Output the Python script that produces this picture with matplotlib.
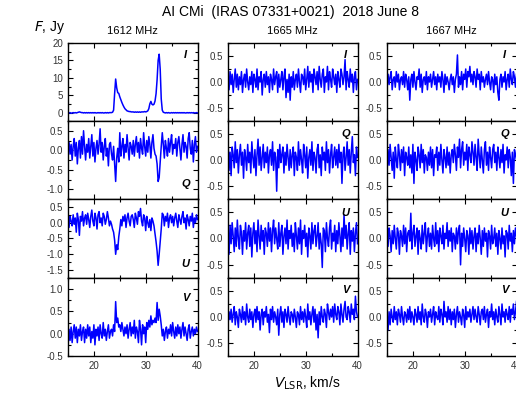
import numpy as np
import matplotlib
matplotlib.use("Agg")
import matplotlib.pyplot as plt
from matplotlib.ticker import MultipleLocator, FormatStrFormatter

plt.rcParams['font.family'] = ['Liberation Sans', 'DejaVu Sans']
plt.rcParams['axes.unicode_minus'] = False

stokes = ["I", "Q", "U", "V"]
freqs = ["1612 MHz", "1665 MHz", "1667 MHz"]

# 1612 MHz, I in Jy
i_1612 = [0.1, 0.0, 0.1, -0.1, 0.0, 0.1, 0.0, 0.1, 0.0, 0.1, 0.2, 0.3, 0.2, 0.1, 0.1, 0.0, 0.1, 0.0, 0.1, 0.0, 0.1,
          0.0, 0.1, 0.0, 0.1, 0.0, 0.1, 0.0, 0.0, 0.1, 0.0, 0.1, 0.0, 0.1, 0.0, 0.0, 0.1, 0.0, 0.1, 0.0, 0.1, 0.1,
          0.1, 0.2, 0.8, 5.5, 9.7, 7.2, 5.8, 5.6, 4.6, 3.8, 3.0, 2.3, 1.7, 1.2, 0.9, 0.6, 0.5, 0.4, 0.4, 0.3, 0.3,
          0.3, 0.2, 0.3, 0.2, 0.3, 0.2, 0.3, 0.2, 0.3, 0.3, 0.3, 0.4, 0.3, 0.4, 0.6, 1.2, 2.6, 3.3, 2.5, 2.3, 2.5,
          3.4, 5.5, 9.5, 15.0, 16.8, 12.5, 4.0, 0.8, 0.2, 0.1, 0.0, 0.1, 0.0, 0.1, 0.0, 0.0, 0.1, 0.0, 0.1, 0.0, 0.1,
          0.0, 0.1, 0.0, 0.1, 0.0, 0.1, 0.0, 0.1, 0.0, 0.0, 0.1, 0.0, 0.1, 0.0, 0.1, 0.0, 0.1, 0.0, 0.0, 0.1, 0.0]

# the rest in units of 0.01 Jy
q_1612 = [5, 20, -10, 15, -25, 10, 30, -15, 20, -35, 5, 25, -20, 35, -10, 50, 10, -25, 15, -5, 30,
          -20, 10, 40, -15, 20, -30, 5, 25, -10, 15, 55, -5, 20, -25, 10, 30, -15, 5, -40, 15, 20,
          -10, -25, 10, -35, -80, -20, 5, -30, 45, -15, 10, 30, -20, 15, -5, 40, 5, -25, 20, 10, -10,
          25, -15, 15, 35, -5, 20, -20, 30, 5, -10, 45, 10, -15, 25, -5, 35, 15, -20, 20, 40, 5,
          -10, -15, -35, -80, -70, -30, 10, 45, 15, -20, 25, 5, -15, 30, -5, 20, 40, -10, 15, 5, 30,
          -15, 20, 35, 5, -25, 15, 40, -5, 20, 10, -20, 30, 45, 5, -10, 25, -30, 15, 35, -5, 10]
u_1612 = [10, -15, 20, 5, -10, 25, -5, 15, -30, 30, 10, -40, 20, 5, 35, -10, 15, 25, -5, 30, 10,
          -15, 20, 40, 5, -10, 30, 15, -20, 25, 35, 0, 15, -10, 30, 20, -5, 10, 35, 15, -10, 5,
          -5, -20, -30, -55, -100, -70, -85, -45, -20, 10, -10, 20, 5, 25, -15, 15, 30, 5, -10, 20, 25,
          10, -15, 30, 15, -5, 35, 20, 45, 5, -10, 25, 15, -25, 20, 0, -15, 10, -25, 15, 5, -10,
          -35, -60, -90, -135, -100, -60, -20, 30, 25, -10, 20, 5, 30, -15, 15, 25, 0, 20, -10, 15, 30,
          5, -15, 25, 10, -5, 20, 35, 0, 15, -20, 25, 10, -10, 20, 5, 30, -15, 15, 0, 25, 10]
v_1612 = [-30, 10, -15, 15, -20, 5, 20, -10, 15, -20, 10, -5, 20, -15, 5, 15, -20, 10, -10, 20, -5,
          15, -20, 5, -10, 20, -25, 10, -5, 15, -15, 20, 0, -10, 25, -5, 10, -15, 5, 20, -10, 5,
          10, -5, 20, 5, 72, 25, 35, 15, 20, 5, 25, 10, -5, 15, 0, 20, -10, 10, 25, -5, 15,
          0, 30, -10, 15, 5, -20, 30, 10, -25, 20, 0, 15, -20, 25, 10, 30, 15, 40, 20, 30, 25,
          35, 25, 70, 30, 55, 40, 20, -5, 10, -15, 5, 15, -10, 10, 0, 20, -5, 25, 5, -10, 15,
          -5, 20, 0, 15, -10, 10, 25, -5, 15, 0, -15, 10, 20, -10, 5, 15, -5, 10, 0, 15, 5]

i_1665 = [10, -15, 20, -5, 15, -20, 5, 25, -10, 15, -15, 10, -5, 20, -20, 5, 15, -10, 25, 0, -15,
          10, -5, 20, -20, 15, 5, -10, 25, -15, 10, 0, 20, -25, 5, 15, -10, 20, -5, 10, -20, 15,
          5, -15, 25, -5, 10, 20, -20, 15, -10, 5, 20, -15, 10, 25, -30, 5, -20, 15, -35, 10, -10,
          20, -15, 5, 15, -10, 25, 0, -20, 15, 10, -5, 25, -15, 5, 30, -10, 20, 0, 15, -20, 25,
          10, -5, 20, -15, 30, 5, -10, 15, 25, -20, 10, 0, 30, -15, 20, 5, -10, 25, 10, -5, 15,
          -20, 20, 5, -10, 25, 15, -5, 10, 43, -15, 20, 5, -10, 25, 0, 15, -20, 10, 20, -15, 5]
q_1665 = [40, -20, 15, -30, 25, 10, -15, 35, -5, 20, -25, 10, 30, -10, 15, -35, 20, 5, -20, 30, -5,
          15, -25, 35, 5, -15, 20, -30, 10, 40, -10, 25, -20, 5, 30, -15, 15, -5, 25, -25, 10, 20,
          -10, 35, -20, 15, 5, -60, 20, -15, 30, -5, 10, 25, -25, 15, -10, 30, 5, -20, 20, -15, 10,
          25, -30, 15, 5, -20, 35, -10, 20, 0, -25, 30, 10, -15, 25, -35, 5, 20, -10, 35, -20, 15,
          5, -25, 20, 30, -15, 10, -30, 25, 0, 15, -20, 35, -5, 20, -25, 10, 30, -15, 5, 25, -10,
          20, -15, 30, -5, 15, -45, 10, 25, -20, 5, 35, -10, 20, -25, 15, 45, -5, 10, -30, 25, 5]
u_1665 = [15, -30, 25, -10, 30, 5, -25, 20, -15, 35, 0, -20, 25, 10, -30, 15, -5, 30, -20, 10, 25,
          -15, 20, -35, 10, 30, -10, 15, -25, 35, 5, -20, 25, -5, 15, -30, 20, 10, -15, 30, -5, 20,
          -25, 15, 35, -10, 20, 0, -20, 30, -15, 10, 25, -30, 5, 20, -10, 35, -20, 15, 0, 25, -15,
          10, -25, 30, 5, -20, 20, -10, 35, -30, 15, 0, 25, -15, 10, -35, 20, 5, -20, 30, -10, 15,
          25, -15, 5, 30, -20, 10, -10, -55, 20, 15, -25, 30, 0, -15, 20, 35, -20, 10, -5, 25, -25,
          15, -10, 30, 5, -25, 20, -15, 45, 0, 25, -20, 10, 30, -30, 15, -5, 20, -25, 10, 30, -10]
v_1665 = [-15, 10, -5, 15, -10, 5, 20, -15, 10, 0, -20, 15, 5, -10, 20, -5, 10, -15, 25, 0, -10,
          15, -5, 10, -20, 5, 15, -10, 20, -5, 10, -25, 5, 15, -15, 10, 0, 20, -10, 5, -30, 15,
          -5, 20, -10, 10, 0, -15, 15, -35, 5, 20, -10, 10, -20, 15, 5, -10, 20, 0, -15, 10, 5,
          -10, 15, 0, -20, 10, 5, -15, 20, -5, 10, -10, 15, 0, -20, 25, -5, 10, -15, 5, 20, -10,
          15, -25, 5, -40, 10, -15, 20, 0, -10, 15, 5, -20, 25, 10, -5, 15, 0, 20, -10, 25, 5,
          -5, 20, 10, -15, 25, 5, -10, 15, 30, 0, -5, 20, 10, -10, 25, 5, 15, -5, 40, 10, 0]

i_1667 = [-10, 15, -5, 10, 20, -15, 5, 10, -10, 20, 0, 15, -15, 5, 10, -5, 20, -10, 15, 5, -15,
          10, -35, 5, 15, -10, 20, 0, -15, 10, 5, 25, -10, 15, -20, 5, 10, -5, 20, -15, 10, 0,
          15, -10, 5, 20, -5, 10, -15, 15, 0, 10, -10, 20, 5, -20, 15, -5, 10, 0, -15, 5, 15,
          -5, 10, -20, 5, 15, 52, -10, 10, -5, 20, -15, 15, 5, 25, -10, 20, 10, 30, 0, 15, -5,
          20, 10, -10, 25, 5, 15, -15, 20, 0, 10, -10, 5, 15, -5, 20, 0, -15, 10, 5, -20, 15,
          -5, 10, -20, -35, 5, 15, -10, 10, 0, 20, -15, 5, 15, -10, 25, 5, -5, 20, 10, -10, 15]
q_1667 = [-25, 20, -10, 30, 5, -20, 15, -35, 25, 0, -15, 30, 10, -20, 20, -5, 25, -30, 15, 5, -10,
          25, -15, 10, -25, 30, -45, 15, 0, -20, 25, 10, -15, 30, -5, 20, -25, 10, 5, -20, 15, -10,
          25, -15, 20, -30, 10, 5, 25, -20, 15, -10, 30, 0, -25, 20, 5, -15, 25, -10, 15, -25, 10,
          20, -5, 30, 10, -20, 25, 5, 40, -15, 20, 35, -10, 15, 0, 30, -20, 25, 10, -5, 35, 15,
          -10, 30, 5, -20, 40, 10, -15, 25, 0, -25, 20, 35, -10, 15, -20, 25, 5, -15, 20, 30, -5,
          15, -20, 25, 5, -15, 20, -5, 30, -25, 10, 0, 25, -15, 20, 5, -30, 15, -45, 20, 10, 0]
u_1667 = [30, -15, 20, 5, -25, 15, -10, 25, 0, -20, 20, 10, -30, 15, 5, -15, 25, -10, 20, -25, 10,
          15, -5, 48, -20, 10, 25, -15, 5, 20, -30, 15, 0, -20, 25, -10, 10, 30, -25, 5, 20, -15,
          10, -20, 25, 0, -15, 30, -10, 15, -25, 20, 5, -10, 25, -20, 10, 0, 30, -15, 15, -5, 20,
          -25, 10, 5, -20, 20, -10, 15, 25, -50, 10, -15, 20, 0, -25, 15, 5, -30, 20, -10, 15, -20,
          5, 20, -25, 10, -10, 25, 0, -30, 15, -15, 20, -5, 10, -35, 15, 5, -20, 25, -10, 0, 20,
          -15, 10, -30, 15, 0, -20, 20, -10, 5, -35, 15, 10, -20, 25, -5, 10, -25, 15, -10, 20, 5]
v_1667 = [-5, -25, 10, -15, 15, 0, -10, 20, -5, 10, -15, 15, 5, -10, 20, 0, -15, 10, 5, -10, 15,
          -5, 20, -10, 10, 0, -15, 15, 5, -10, 20, -5, 10, -15, 25, 0, -10, 15, 5, -20, 10, 0,
          15, -10, 5, 20, -15, 10, 0, -5, 20, -10, 15, 5, -15, 30, 0, 10, -10, 20, -5, 15, -15,
          10, -5, 15, -20, 5, 20, -10, 10, 0, -15, 15, 5, -20, 20, -5, 10, 0, 15, -10, 5, 20,
          -5, 15, 0, -10, 20, 5, -15, 10, 15, -5, 20, -10, 5, 15, -20, 10, 0, 25, -5, 10, -15,
          15, 0, -10, 20, 5, -15, 25, 0, 10, -10, 15, 5, -5, 20, -10, 15, 5, 25, -5, 10, 30]

spectra = [
    [np.array(i_1612), np.array(q_1612) / 100, np.array(u_1612) / 100, np.array(v_1612) / 100],
    [np.array(i_1665) / 100, np.array(q_1665) / 100, np.array(u_1665) / 100, np.array(v_1665) / 100],
    [np.array(i_1667) / 100, np.array(q_1667) / 100, np.array(u_1667) / 100, np.array(v_1667) / 100],
]

W, H = 516, 396
col_x = [68, 228, 387]
col_w = 129.5
row_y = [43, 121, 199, 278, 356]

left_lims = [(-2.3, 20), (-1.25, 0.75), (-1.75, 0.75), (-0.5, 1.25)]
left_major = [5, 0.5, 0.5, 0.5]
# label position in axes fraction, per column / row
lab_pos_left = [(0.91, 0.84), (0.91, 0.19), (0.91, 0.18), (0.91, 0.74)]
lab_pos_other = [(0.91, 0.84), (0.91, 0.83), (0.91, 0.82), (0.91, 0.84)]

fig = plt.figure(figsize=(W / 100, H / 100), dpi=100)

for c in range(3):
    for r in range(4):
        y0, y1 = row_y[r], row_y[r + 1]
        ax = fig.add_axes([col_x[c] / W, 1 - y1 / H, col_w / W, (y1 - y0) / H])
        data = spectra[c][r]
        vel = np.linspace(15, 40, len(data))
        ax.plot(vel, data, color=(0, 0, 1), lw=1.1)
        ax.set_xlim(15, 40)
        if c == 0:
            ax.set_ylim(*left_lims[r])
            ax.yaxis.set_major_locator(MultipleLocator(left_major[r]))
            ax.yaxis.set_minor_locator(MultipleLocator(left_major[r] / 2))
            if r == 0:
                ax.yaxis.set_major_formatter(FormatStrFormatter('%d'))
            else:
                ax.yaxis.set_major_formatter(FormatStrFormatter('%.1f'))
            lx, ly = lab_pos_left[r]
        else:
            ax.set_ylim(-0.75, 0.75)
            ax.yaxis.set_major_locator(MultipleLocator(0.5))
            ax.yaxis.set_minor_locator(MultipleLocator(0.25))
            ax.yaxis.set_major_formatter(FormatStrFormatter('%.1f'))
            lx, ly = lab_pos_other[r]
        ax.xaxis.set_major_locator(MultipleLocator(10))
        ax.xaxis.set_minor_locator(MultipleLocator(5))
        ax.tick_params(which='both', direction='in', top=True, right=True,
                       labelsize=7, labelcolor='#333333', width=0.8)
        ax.tick_params(which='major', length=3.5)
        ax.tick_params(which='minor', length=2)
        if r < 3:
            ax.tick_params(labelbottom=False)
        for s in ax.spines.values():
            s.set_linewidth(1.0)
        ax.text(lx, ly, stokes[r], transform=ax.transAxes, fontsize=8,
                fontweight='bold', fontstyle='italic', ha='center', va='center')
    fig.text((col_x[c] + col_w / 2) / W, 1 - 31 / H, freqs[c], fontsize=8,
             ha='center', va='center')

fig.text(291 / W, 1 - 12 / H, "AI CMi  (IRAS 07331+0021)  2018 June 8",
         fontsize=10, ha='center', va='center')
fig.text(34 / W, 1 - 27 / H, r"$\it{F}$, Jy", fontsize=10, ha='left', va='center')
fig.text(307 / W, 1 - 383 / H, r"$\it{V}_{\rm LSR}$, km/s", fontsize=10,
         ha='center', va='center')

fig.savefig("out.png", dpi=100)
